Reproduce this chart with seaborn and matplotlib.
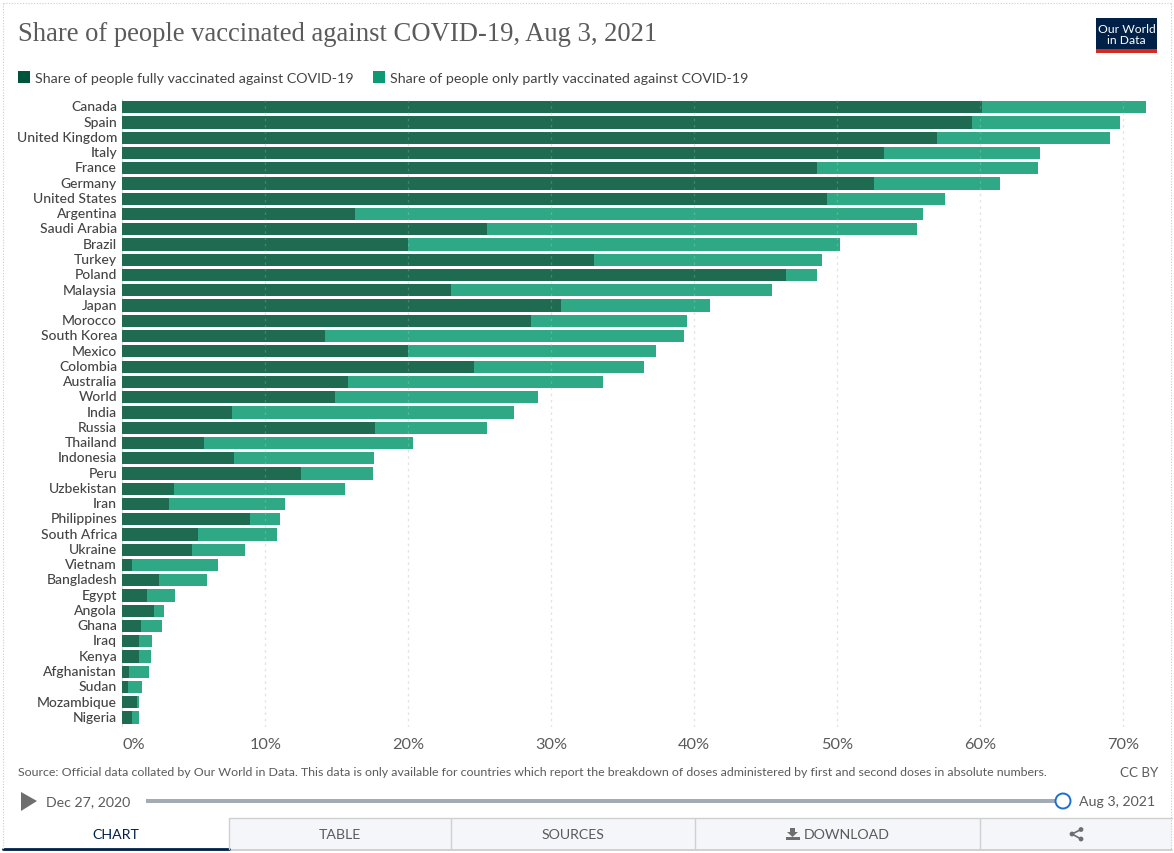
import matplotlib
matplotlib.use('Agg')
import pandas as pd
import seaborn as sns
import matplotlib.pyplot as plt
from matplotlib.patches import Rectangle, Polygon, Circle
from matplotlib.transforms import ScaledTranslation

countries = ['Canada', 'Spain', 'United Kingdom', 'Italy', 'France', 'Germany', 'United States',
             'Argentina', 'Saudi Arabia', 'Brazil', 'Turkey', 'Poland', 'Malaysia', 'Japan',
             'Morocco', 'South Korea', 'Mexico', 'Colombia', 'Australia', 'World', 'India',
             'Russia', 'Thailand', 'Indonesia', 'Peru', 'Uzbekistan', 'Iran', 'Philippines',
             'South Africa', 'Ukraine', 'Vietnam', 'Bangladesh', 'Egypt', 'Angola', 'Ghana',
             'Iraq', 'Kenya', 'Afghanistan', 'Sudan', 'Mozambique', 'Nigeria']
fully = [60.1, 59.4, 57.0, 53.3, 48.6, 52.6, 49.3, 16.3, 25.5, 20.0, 33.0, 46.4, 23.0, 30.7,
         28.6, 14.2, 20.0, 24.6, 15.8, 14.9, 7.7, 17.7, 5.7, 7.8, 12.5, 3.6, 3.3, 8.9,
         5.3, 4.9, 0.7, 2.6, 1.7, 2.2, 1.3, 1.2, 1.2, 0.5, 0.4, 1.0, 0.7]
total = [71.6, 69.8, 69.1, 64.2, 64.0, 61.4, 57.5, 56.0, 55.6, 50.2, 48.9, 48.6, 45.4, 41.1,
         39.5, 39.3, 37.3, 36.5, 33.6, 29.1, 27.4, 25.5, 20.3, 17.6, 17.5, 15.6, 11.4, 11.0,
         10.8, 8.6, 6.7, 5.9, 3.7, 2.9, 2.8, 2.1, 2.0, 1.9, 1.4, 1.2, 1.2]
x_ticks = [0, 10, 20, 30, 40, 50, 60, 70]

W, H = 1174, 854
sns.set_theme(style='white')
plt.rcParams['font.family'] = ['Lato', 'DejaVu Sans']

df = pd.DataFrame({'country': countries, 'fully': fully, 'total': total})

fig = plt.figure(figsize=(W / 100, H / 100), dpi=100)

# plot area, placed in pixels
left, right, top, bottom = 122.3, 1150, 100, 728
row0, pitch = 108.2, 15.26
ax = fig.add_axes([left / W, 1 - bottom / H, (right - left) / W, (bottom - top) / H])

sns.barplot(data=df, x='total', y='country', color='#2fa985', saturation=1, width=0.8,
            edgecolor='none', linewidth=0, ax=ax, zorder=2)
sns.barplot(data=df, x='fully', y='country', color='#1f6b52', saturation=1, width=0.8,
            edgecolor='none', linewidth=0, ax=ax, zorder=3)

ax.set_xlim(0, (right - left) / 14.3)
ax.set_ylim((bottom - row0) / pitch, (top - row0) / pitch)
ax.set_xlabel('')
ax.set_ylabel('')
ax.set_xticks(x_ticks)
ax.set_xticklabels([f'{t}%' for t in x_ticks], fontsize=11.8, color='#5b5b5b')
ax.get_xticklabels()[0].set_ha('left')
ax.tick_params(axis='x', length=0, pad=7)
ax.tick_params(axis='y', length=0, pad=3.8)
# labels sit a little above the bar centres
lift = ScaledTranslation(0, 1.3 / 72, fig.dpi_scale_trans)
for lab in ax.get_yticklabels():
    lab.set_fontsize(10)
    lab.set_fontweight('medium')
    lab.set_color('#444444')
    lab.set_transform(lab.get_transform() + lift)
for t in x_ticks[1:]:
    ax.axvline(t, color='#dddddd', lw=0.9, ls=(0, (2, 3)), zorder=1)
    ax.axvline(t, color='#ffffff', alpha=0.18, lw=0.9, ls=(0, (2, 3)), zorder=4)
ax.axvline(0, color='#dddddd', lw=0.9, zorder=1)
sns.despine(ax=ax, left=True, bottom=True, top=True, right=True)
ax.patch.set_alpha(0)

# page furniture in pixel coordinates
ov = fig.add_axes([0, 0, 1, 1], zorder=-1)
ov.set_xlim(0, W)
ov.set_ylim(H, 0)
ov.axis('off')
top_ov = fig.add_axes([0, 0, 1, 1], zorder=5)
top_ov.set_xlim(0, W)
top_ov.set_ylim(H, 0)
top_ov.axis('off')
top_ov.patch.set_alpha(0)

grey = '#5b5b5b'
top_ov.text(18, 34.5, 'Share of people vaccinated against COVID-19, Aug 3, 2021', fontsize=19.15,
            family='Liberation Serif', color='#5b5b5b', va='center')

# legend
top_ov.add_patch(Rectangle((18, 72), 12, 12, color='#00543c', lw=0))
top_ov.text(35, 79, 'Share of people fully vaccinated against COVID-19', fontsize=10.24, color='#444444', va='center')
top_ov.add_patch(Rectangle((373, 72), 12, 12, color='#0c9a74', lw=0))
top_ov.text(390, 79, 'Share of people only partly vaccinated against COVID-19', fontsize=10.24, color='#444444', va='center')

# logo
top_ov.add_patch(Rectangle((1096, 19), 61, 35, color='#002147', lw=0))
top_ov.add_patch(Rectangle((1096, 50), 61, 4, color='#d42b21', lw=0))
top_ov.text(1126.5, 35, 'Our World\nin Data', fontsize=8.7, color='white', ha='center', va='center', linespacing=1.0)

# footer
top_ov.text(18, 773, 'Source: Official data collated by Our World in Data. This data is only available for countries '
            'which report the breakdown of doses administered by first and second doses in absolute numbers.',
            fontsize=8.96, color=grey, va='center')
top_ov.text(1158, 773, 'CC BY', fontsize=9.6, color=grey, va='center', ha='right')

# timeline
top_ov.add_patch(Polygon([(21, 793), (37, 802), (21, 812)], closed=True, color='#6e6e6e', lw=0))
top_ov.text(46, 802, 'Dec 27, 2020', fontsize=10.2, color=grey, va='center')
top_ov.add_patch(Rectangle((146, 800), 918, 4, color='#a3acb5', lw=0))
top_ov.add_patch(Circle((1063, 802), 7.5, fc='white', ec='#1a6fd0', lw=1.4))
top_ov.text(1079, 802, 'Aug 3, 2021', fontsize=10.2, color=grey, va='center')

# tabs
ov.add_patch(Rectangle((229, 819), 943, 31, fc='#f5f6fa', ec='none'))
top_ov.plot([229, 1172], [819, 819], color='#d0d0d0', lw=1)
top_ov.plot([3, 1172], [850.5, 850.5], color='#c8c8c8', lw=1.2)
top_ov.plot([3, 229], [850, 850], color='#002147', lw=2)
for x in [229, 451, 695, 980]:
    top_ov.plot([x, x], [819, 850], color='#d0d0d0', lw=1)
top_ov.text(116, 835, 'CHART', fontsize=10.2, color='#002147', ha='center', va='center')
top_ov.text(340, 835, 'TABLE', fontsize=10.2, color=grey, ha='center', va='center')
top_ov.text(573, 835, 'SOURCES', fontsize=10.2, color=grey, ha='center', va='center')
top_ov.text(847, 835, 'DOWNLOAD', fontsize=10.2, color=grey, ha='center', va='center')
# download icon
top_ov.add_patch(Polygon([(790, 829), (795, 829), (795, 833), (798, 833), (792.5, 838), (787, 833), (790, 833)],
                         closed=True, color='#6e6e6e', lw=0))
top_ov.add_patch(Rectangle((785.5, 838), 14, 3, color='#6e6e6e', lw=0))
# share icon
top_ov.plot([1081, 1072, 1081], [830.5, 835, 840], color='#6e6e6e', lw=1.2)
for x, y in [(1081, 830.5), (1072, 835), (1081, 840)]:
    top_ov.add_patch(Circle((x, y), 2.4, color='#6e6e6e', lw=0))

# dotted page border
top_ov.plot([3, 3], [4, 850], color='#cccccc', lw=0.8, ls=(0, (1, 1.5)))
top_ov.plot([3, 1171], [4, 4], color='#cccccc', lw=0.8, ls=(0, (1, 1.5)))
top_ov.plot([1171, 1171], [4, 850], color='#cccccc', lw=0.8, ls=(0, (1, 1.5)))

fig.savefig('out.png', dpi=100)
